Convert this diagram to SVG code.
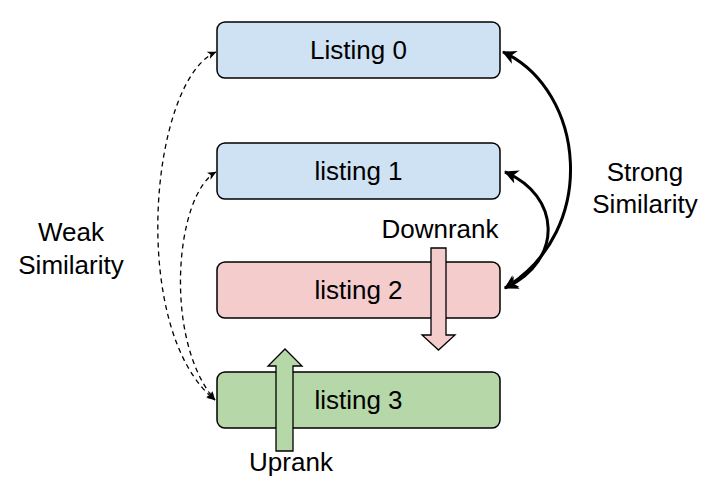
<svg xmlns="http://www.w3.org/2000/svg" width="720" height="498" viewBox="0 0 720 498">
<defs>
<style>
.box{stroke:#000;stroke-width:1.5}
.lbl{font-family:"Liberation Sans",Arial,sans-serif;font-size:26px;fill:#000;text-anchor:middle}
.dash{fill:none;stroke:#000;stroke-width:1.3;stroke-dasharray:5 4}
.strong{fill:none;stroke:#000;stroke-width:3}
.big{stroke:#000;stroke-width:1.3;stroke-linejoin:miter}
</style>
<marker id="ah" viewBox="0 0 14 14" refX="13" refY="7" markerWidth="14" markerHeight="14" markerUnits="userSpaceOnUse" orient="auto-start-reverse">
<path d="M14,7 L0,0 L4,7 L0,14 Z" fill="#000"/>
</marker>
<marker id="as" viewBox="0 0 9 8" refX="8.5" refY="4" markerWidth="9" markerHeight="8" markerUnits="userSpaceOnUse" orient="auto-start-reverse">
<path d="M9,4 L0,0 L2.5,4 L0,8 Z" fill="#000"/>
</marker>
</defs>
<rect width="720" height="498" fill="#fff"/>
<g id="listing0">
<rect class="box" x="217" y="22" width="283" height="56" rx="8" fill="#cfe2f3"/>
<text class="lbl" x="358.5" y="59">Listing 0</text>
</g>
<g id="listing1">
<rect class="box" x="217" y="143" width="283" height="56" rx="8" fill="#cfe2f3"/>
<text class="lbl" x="358.5" y="180">listing 1</text>
</g>
<g id="listing2">
<rect class="box" x="217" y="262" width="283" height="56" rx="8" fill="#f4cccc"/>
<text class="lbl" x="358.5" y="299">listing 2</text>
</g>
<g id="listing3">
<rect class="box" x="217" y="372" width="283" height="56" rx="8" fill="#b6d7a8"/>
<text class="lbl" x="358.5" y="409">listing 3</text>
</g>
<g id="connectors">
<path class="dash" d="M216,52 C150,80 128,330 215,400" marker-start="url(#as)" marker-end="url(#as)"/>
<path class="dash" d="M216,172 C175,195 163,340 215,400" marker-start="url(#as)" marker-end="url(#as)"/>
<path class="strong" d="M503,52 C585,90 600,230 505,288" marker-start="url(#ah)" marker-end="url(#ah)"/>
<path class="strong" d="M505,172 C560,195 565,260 505,288" marker-start="url(#ah)" marker-end="url(#ah)"/>
</g>
<g id="downrank">
<polygon class="big" fill="#f4cccc" points="431,248 446,248 446,335 455,335 438.5,350 422,335 431,335"/>
<text class="lbl" x="440" y="238">Downrank</text>
</g>
<g id="uprank">
<polygon class="big" fill="#b6d7a8" points="276,451 293,451 293,366 302,366 285,349 268,366 276,366"/>
<text class="lbl" x="291" y="471">Uprank</text>
</g>
<g id="weak">
<text class="lbl" x="71" y="241">Weak</text>
<text class="lbl" x="71" y="274">Similarity</text>
</g>
<g id="strongsim">
<text class="lbl" x="645" y="181">Strong</text>
<text class="lbl" x="645" y="213">Similarity</text>
</g>
</svg>
